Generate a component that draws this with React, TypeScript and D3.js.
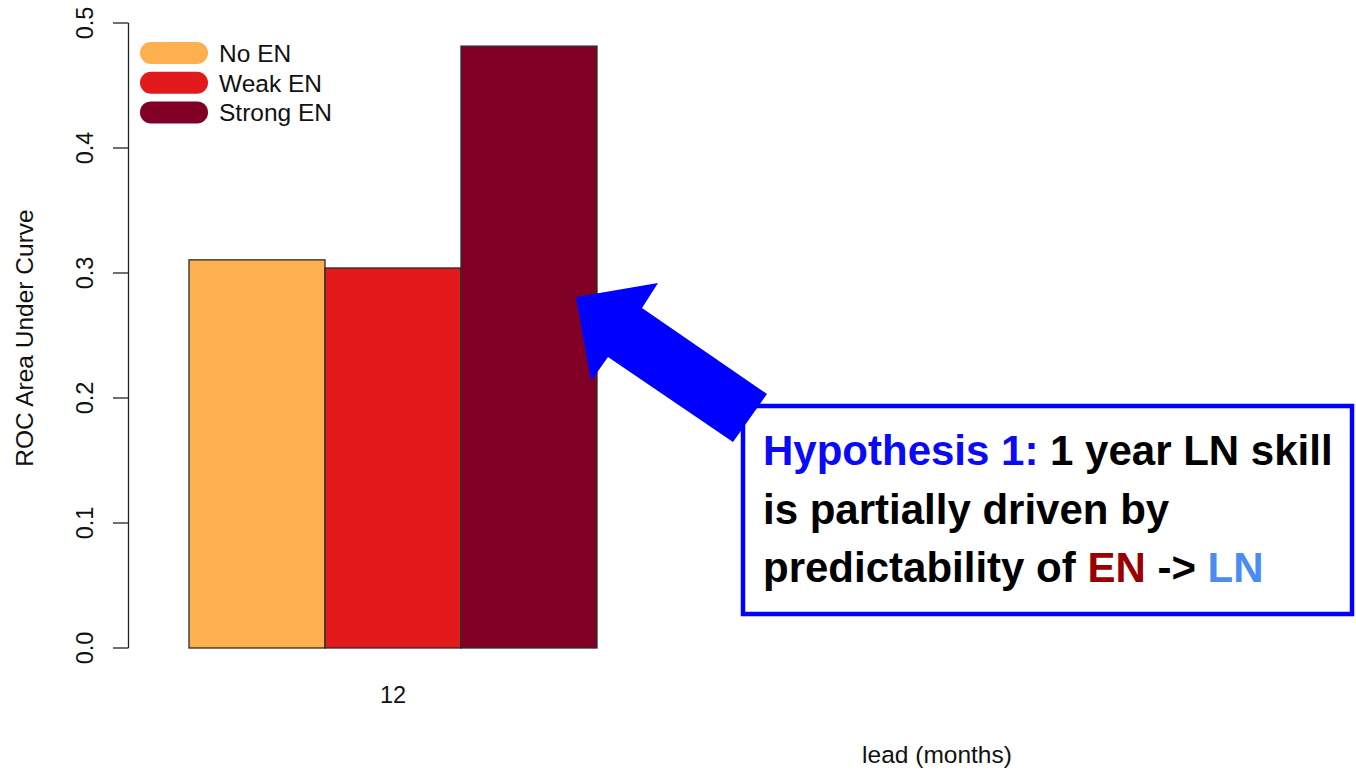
import React from "react";
import * as d3 from "d3";

const groups = ["12"];
const series = ["No EN", "Weak EN", "Strong EN"];
const values = [0.3105, 0.304, 0.4815];
const colors = ["#FDB04F", "#E31A1C", "#800026"];
const yTicks = [0, 0.1, 0.2, 0.3, 0.4, 0.5];
const yLabel = "ROC Area Under Curve";
const xLabel = "lead (months)";

const W = 1356;
const H = 772;
const FONT = "'Liberation Sans', Arial, Helvetica, sans-serif";

export default function App() {
  const y = d3.scaleLinear().domain([0, 0.5]).range([648, 23]);
  const x0 = d3.scaleBand().domain(groups).range([189, 597]).padding(0);
  const x1 = d3.scaleBand().domain(series).range([0, x0.bandwidth()]).padding(0);

  const arrowPts: [number, number][] = [
    [576, 297],
    [658, 283],
    [642, 308],
    [767, 394],
    [733, 442],
    [608, 357],
    [591, 381],
  ];
  const arrowPath = d3.line()(arrowPts) + "Z";

  return (
    <svg
      width={W}
      height={H}
      style={{ position: "absolute", left: 0, top: 0, background: "#fff" }}
      fontFamily={FONT}
    >
      <rect x={0} y={0} width={W} height={H} fill="#fff" />
      {/* y axis */}
      <line x1={128.5} x2={128.5} y1={y(0.5)} y2={y(0)} stroke="#222" strokeWidth={1.3} />
      {yTicks.map((t) => (
        <g key={t}>
          <line x1={113} x2={128.5} y1={y(t)} y2={y(t)} stroke="#222" strokeWidth={1.3} />
          <text
            transform={`translate(${93},${y(t)}) rotate(-90)`}
            textAnchor="middle"
            fontSize={23.5}
            fill="#111"
          >
            {t.toFixed(1)}
          </text>
        </g>
      ))}
      <text
        transform={`translate(${33},${338}) rotate(-90)`}
        textAnchor="middle"
        fontSize={24.5}
        fill="#111"
      >
        {yLabel}
      </text>

      {/* bars */}
      {groups.map((g) => (
        <g key={g} transform={`translate(${x0(g)},0)`}>
          {series.map((s, i) => (
            <rect
              key={s}
              x={x1(s)}
              y={y(values[i])}
              width={x1.bandwidth()}
              height={y(0) - y(values[i])}
              fill={colors[i]}
              stroke="#2a2a2a"
              strokeWidth={1.3}
            />
          ))}
          <text
            x={x0.bandwidth() / 2}
            y={703}
            textAnchor="middle"
            fontSize={23.5}
            fill="#111"
          >
            {g}
          </text>
        </g>
      ))}

      <text x={937} y={763} textAnchor="middle" fontSize={24.5} fill="#111">
        {xLabel}
      </text>

      {/* legend */}
      {series.map((s, i) => (
        <g key={s} transform={`translate(0,${53 + i * 29.7})`}>
          <line
            x1={151}
            x2={197}
            y1={0}
            y2={0}
            stroke={colors[i]}
            strokeWidth={22}
            strokeLinecap="round"
          />
          <text x={219} y={9} fontSize={24.5} fill="#111">
            {s}
          </text>
        </g>
      ))}

      {/* annotation box */}
      <rect
        x={743}
        y={406}
        width={609}
        height={208}
        fill="#fff"
        stroke="#0000FF"
        strokeWidth={4.5}
      />
      <path d={arrowPath} fill="#0000FF" />
      <g fontSize={42} fontWeight="bold" fill="#000">
        <text x={763} y={465}>
          <tspan fill="#0A0AF5">Hypothesis 1:</tspan>
          <tspan> 1 year LN skill</tspan>
        </text>
        <text x={763} y={524}>
          is partially driven by
        </text>
        <text x={763} y={582}>
          <tspan>predictability of </tspan>
          <tspan fill="#990000">EN</tspan>
          <tspan> -&gt; </tspan>
          <tspan fill="#4A8CF2">LN</tspan>
        </text>
      </g>
    </svg>
  );
}
